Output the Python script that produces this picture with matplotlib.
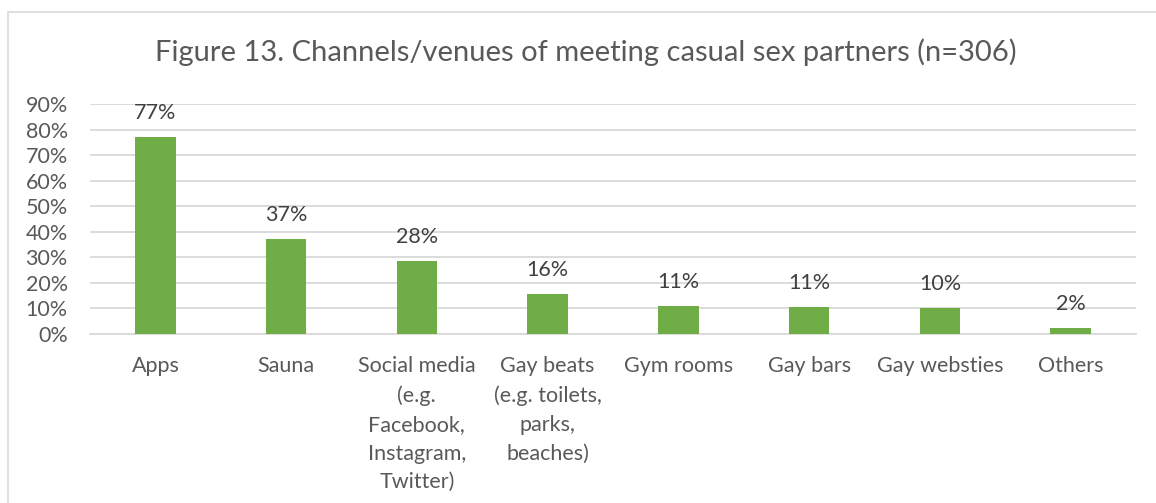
import numpy as np
import matplotlib
matplotlib.use("Agg")
import matplotlib.pyplot as plt
from matplotlib.patches import Rectangle

# data
categories = ["Apps", "Sauna", "Social media\n(e.g.\nFacebook,\nInstagram,\nTwitter)",
              "Gay beats\n(e.g. toilets,\nparks,\nbeaches)", "Gym rooms", "Gay bars",
              "Gay websties", "Others"]
values = [76.9, 37.2, 28.6, 15.8, 11.1, 10.7, 10.0, 2.2]
value_labels = ["77%", "37%", "28%", "16%", "11%", "11%", "10%", "2%"]
yticks = [0, 10, 20, 30, 40, 50, 60, 70, 80, 90]

plt.rcParams['font.family'] = ['Lato', 'DejaVu Sans']
txt = '#595959'

fig = plt.figure(figsize=(11.56, 5.03), dpi=100, facecolor='white')
# outer chart frame (cropped at right/bottom like the screenshot)
fig.patches.append(Rectangle((8/1156, -0.1), 1.2, (503-12)/503 + 0.1, transform=fig.transFigure,
                             fill=False, edgecolor='#d9d9d9', lw=1.2))

ax = fig.add_axes([90/1156, 1-334/503, (1136-90)/1156, (334-104)/503])
x = np.arange(len(categories))
ax.bar(x, values, width=0.31, color='#70ad47', zorder=3)
for xi, v, lab in zip(x, values, value_labels):
    ax.annotate(lab, (xi, v), xytext=(0, 13), textcoords='offset points',
                ha='center', va='baseline', fontsize=15.5, color='#404040')

ax.set_xlim(-0.5, len(categories) - 0.5)
ax.set_ylim(0, 90)
ax.set_yticks(yticks)
ax.set_yticklabels([f"{t}%" for t in yticks], fontsize=15.5, color=txt)
ax.yaxis.grid(True, color='#d9d9d9', lw=1.3, zorder=0)
ax.set_xticks(x)
ax.set_xticklabels(categories, fontsize=15.5, color=txt, linespacing=1.55, va='top')
ax.tick_params(axis='both', length=0)
ax.tick_params(axis='x', pad=16)
ax.tick_params(axis='y', pad=16)
for s in ['top', 'right', 'left']:
    ax.spines[s].set_visible(False)
ax.spines['bottom'].set_color('#d9d9d9')
ax.spines['bottom'].set_linewidth(1.3)

fig.text(586/1156, 1-52/503, "Figure 13. Channels/venues of meeting casual sex partners (n=306)",
         ha='center', va='center', fontsize=21, color=txt)

fig.savefig("out.png", dpi=100, facecolor='white')
